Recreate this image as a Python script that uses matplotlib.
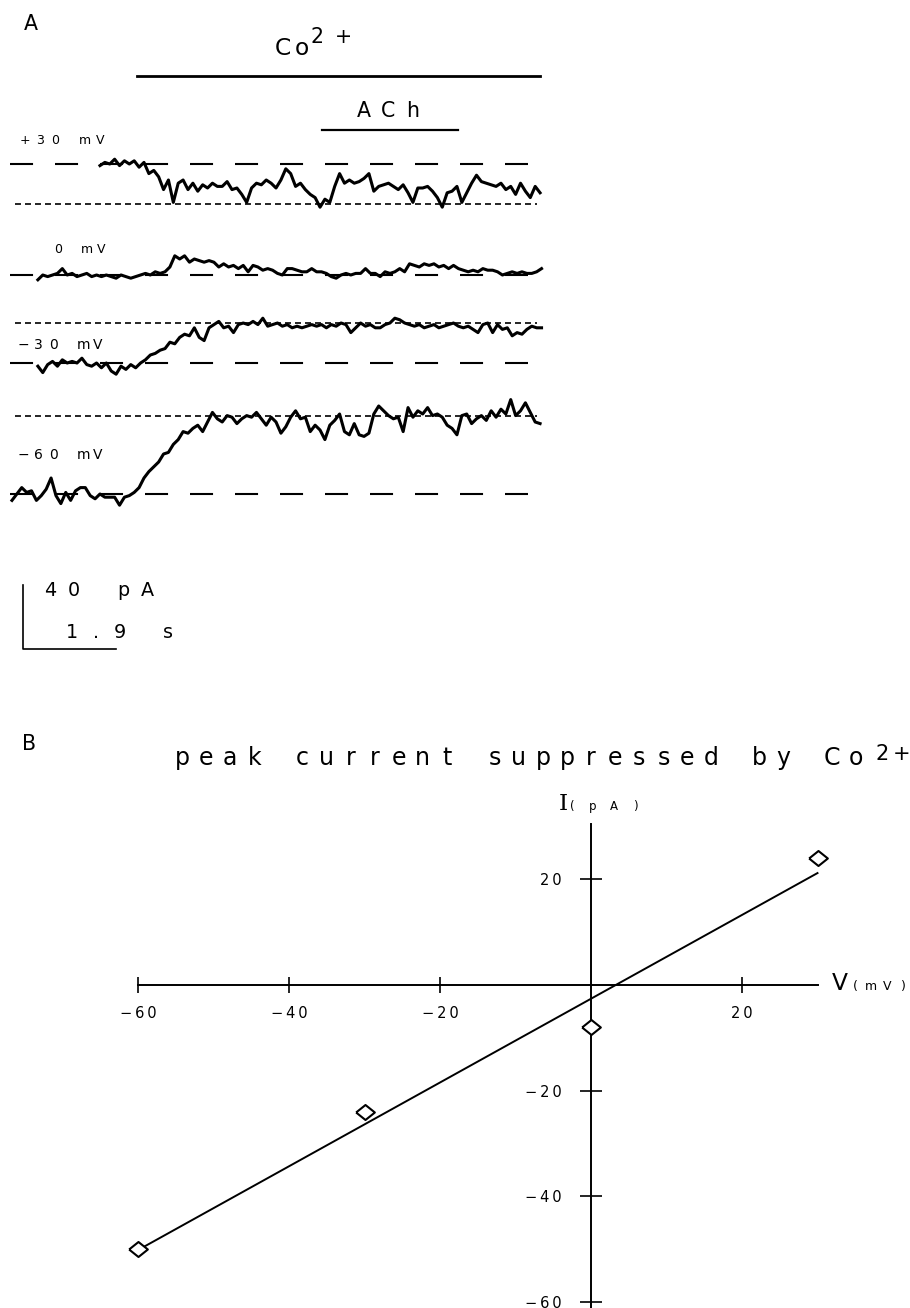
import numpy as np
import matplotlib
matplotlib.use('Agg')
import matplotlib.pyplot as plt

plt.rcParams['lines.scale_dashes'] = False
plt.rcParams['font.family'] = ['DejaVu Sans']

W, H = 910, 1308

# ---------------- panel A data ----------------
# current traces in pA, relative to the control level, one sample every 0.1 s
dt = 0.1
trace_p30 = [-1, 1, 0, 3, -1, 2, 0, 2, -2, 1, -6, -4, -8, -16, -10, -24, -12, -10, -16, -12,
             -17, -13, -15, -12, -14, -14, -11, -16, -15, -19, -24, -15, -12, -13, -10, -12, -15, -10,
             -3, -6, -14, -12, -16, -19, -21, -27, -22, -24, -14, -6, -12, -10, -12, -11, -9, -6,
             -17, -14, -13, -12, -14, -16, -13, -18, -24, -15, -15, -14, -17, -21, -27, -18, -17, -14,
             -24, -18, -12, -7, -11, -12, -13, -14, -12, -16, -14, -19, -12, -17, -21, -14, -18]
trace_0 = [-3, 0, -1, 0, 1, 4, 0, 1, -1, 0, 1, -1, 0, -1, 0, -1, -2, 0, -1, -2, -1, 0, 1, 0, 2,
           1, 2, 5, 12, 10, 12, 8, 10, 9, 8, 9, 8, 5, 7, 5, 6, 4, 6, 2, 6, 5, 3, 4, 3, 1, 0, 4, 4,
           3, 2, 2, 4, 2, 2, 1, -1, -2, 0, 1, 0, 1, 1, 4, 1, 1, -1, 2, 1, 2, 4, 2, 7, 6, 5, 7, 6,
           7, 5, 6, 4, 6, 4, 3, 2, 3, 2, 4, 3, 3, 2, 0, 1, 2, 1, 2, 1, 1, 2, 4]
trace_m30 = [-2, -6, -1, 1, -2, 2, 0, 1, 0, 3, -1, -2, 0, -3, 0, -5, -7, -2, -4, -1, -3, 0, 2, 5,
             6, 8, 9, 13, 12, 16, 18, 17, 22, 16, 14, 22, 24, 26, 22, 23, 19, 24, 25, 24, 26, 24,
             28, 23, 24, 25, 23, 24, 22, 23, 22, 23, 24, 23, 24, 22, 24, 23, 25, 24, 19, 22, 25,
             23, 24, 22, 22, 24, 25, 28, 27, 25, 24, 23, 24, 22, 23, 24, 22, 23, 24, 25, 23, 22,
             23, 21, 19, 24, 25, 19, 24, 21, 22, 17, 19, 18, 21, 23, 22, 22]
trace_m60 = [-4, 0, 4, 1, 2, -4, -1, 3, 10, -1, -6, 1, -4, 2, 4, 4, -1, -3, 0, -2, -2, -2, -7, -2,
             -1, 1, 4, 10, 14, 17, 20, 25, 26, 31, 34, 39, 38, 41, 43, 39, 45, 51, 47, 45, 49, 48,
             44, 47, 49, 48, 51, 47, 43, 48, 45, 38, 42, 48, 52, 47, 48, 39, 43, 40, 34, 43, 46,
             50, 39, 37, 44, 37, 36, 38, 50, 55, 52, 49, 47, 48, 39, 54, 48, 52, 50, 54, 49, 50,
             48, 43, 41, 37, 49, 50, 44, 47, 49, 46, 52, 48, 53, 50, 59, 49, 52, 57, 51, 45, 44]
traces = [trace_p30, trace_0, trace_m30, trace_m60]
trace_starts = [1.84, 0.57, 0.57, 0.04]          # s
trace_labels = ['+30 mV', '0 mV', '\u221230 mV', '\u221260 mV']
co_levels = [-25, None, 25, 49]                  # pA, level reached in Co2+
co_period = (2.6, 10.84)                         # s
ach_period = (6.38, 9.16)                        # s
scale_t, scale_i = 1.9, 40                       # s, pA

# ---------------- panel B data ----------------
volt = [-60, -30, 0, 30]
peak_i = [-50, -24, -8, 24]
xticks_b = [-60, -40, -20, 20]
yticks_b = [20, -20, -40, -60]

fig = plt.figure(figsize=(9.1, 13.08), dpi=100)


def fx(px):
    return px / W


def fy(py):
    return 1 - py / H


# plotter-style lettering: one glyph per fixed-width cell
def spaced(x0, y, text, pitch, size, **kw):
    for k, ch in enumerate(text):
        if ch != ' ':
            fig.text(fx(x0 + k * pitch), fy(y), ch, ha='center', va='baseline',
                     fontsize=size, **kw)


# ---------------- panel A ----------------
px_s, px_pa = 48.9, 1.6
axA = fig.add_axes([0, fy(660), fx(550), 660 / H])
axA.set_xlim(-10 / px_s, 540 / px_s)
axA.set_ylim(-660 / px_pa, 0)
axA.axis('off')

base_rows = [164, 275, 363, 494]
for k, vals in enumerate(traces):
    off = -base_rows[k] / px_pa
    t = trace_starts[k] + dt * np.arange(len(vals))
    axA.plot([0, 518 / px_s], [off, off], color='k', lw=1.5, dashes=(16.6, 15.8))
    if co_levels[k] is not None:
        axA.plot([5 / px_s, 527 / px_s], [off + co_levels[k]] * 2, color='k', lw=1.2,
                 dashes=(4.3, 2.9))
    axA.plot(t, off + np.array(vals), color='k', lw=2.2)

axA.plot(co_period, [-76 / px_pa] * 2, color='k', lw=2.0)
axA.plot(ach_period, [-130 / px_pa] * 2, color='k', lw=1.6)

sb_t, sb_y = 13 / px_s, -649 / px_pa
axA.plot([sb_t, sb_t, sb_t + scale_t], [sb_y + scale_i, sb_y, sb_y], color='k', lw=1.2)

spaced(31, 30, 'A', 0, 14.8)
spaced(283, 55, 'Co', 19, 16.8)
spaced(317, 43, '2+', 26, 14.8)
spaced(364, 117, 'ACh', 24.5, 14.8)
spaced(25, 144, trace_labels[0], 15, 9)
spaced(58, 253, trace_labels[1], 14.5, 9)
spaced(23, 349, trace_labels[2], 15, 10)
spaced(23, 459, trace_labels[3], 15, 10)
spaced(50, 596, '%d pA' % scale_i, 24.3, 13.8)
spaced(72, 638, '%.1f s' % scale_t, 24, 13.8)

# ---------------- panel B ----------------
px_mv, px_pb = 7.55, 5.28
axB = fig.add_axes([fx(100), fy(1308), fx(810), 618 / H])
axB.set_xlim((100 - 591) / px_mv, (910 - 591) / px_mv)
axB.set_ylim((985 - 1308) / px_pb, (985 - 690) / px_pb)
axB.patch.set_visible(False)
for side in ['top', 'right']:
    axB.spines[side].set_visible(False)
axB.spines['left'].set_position('zero')
axB.spines['bottom'].set_position('zero')
axB.spines['left'].set_bounds(-61.2, 30.5)
axB.spines['bottom'].set_bounds(-60, 30)
for side in ['left', 'bottom']:
    axB.spines[side].set_linewidth(1.4)

axB.set_xticks(xticks_b)
axB.set_xticklabels(['\u2009'.join(str(v).replace('-', '\u2212')) for v in xticks_b])
axB.set_yticks(yticks_b)
axB.set_yticklabels(['\u2009'.join(str(v).replace('-', '\u2212')) for v in yticks_b])
axB.tick_params(axis='x', direction='inout', length=11.5, width=1.2, pad=9.7, labelsize=10.5)
axB.tick_params(axis='y', direction='inout', length=15.8, width=1.2, pad=13, labelsize=10.5)

slope, icpt = np.polyfit(volt, peak_i, 1)
vv = np.array([min(volt), max(volt)])
axB.plot(vv, slope * vv + icpt, color='k', lw=1.4)
diamond = [(-1, 0), (0, 0.8), (1, 0), (0, -0.8), (-1, 0)]
axB.plot(volt, peak_i, ls='none', marker=diamond, ms=13.5, mfc='white', mec='k', mew=1.5,
         zorder=3)

spaced(29, 750, 'B', 0, 14.8)
spaced(182, 765, 'peak current suppressed by Co', 24.07, 17)
spaced(882, 760, '2+', 20, 15)
fig.text(fx(563), fy(810), 'I', ha='center', va='baseline', fontsize=16.8, family='DejaVu Serif')
spaced(572, 810, '(pA)', 21, 8.5)
spaced(840, 990, 'V', 0, 16.8)
spaced(855, 990, '(mV)', 16, 9)

fig.savefig('out.png', dpi=100)
